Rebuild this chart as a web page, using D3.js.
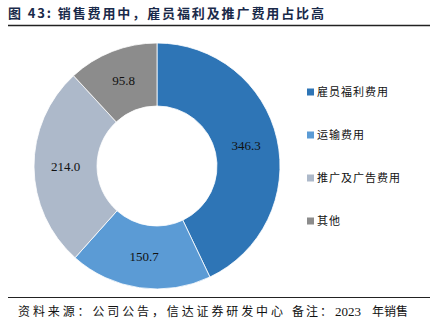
<!DOCTYPE html>
<html>
<head>
<meta charset="utf-8">
<script src="https://cdn.jsdelivr.net/npm/d3@7/dist/d3.min.js"></script>
<style>
  html, body { margin: 0; padding: 0; background: #fff; }
  svg { display: block; }
</style>
</head>
<body>
<svg id="chart" width="432" height="328"></svg>
<script>
// 2023 年销售费用构成
const categories = ["雇员福利费用", "运输费用", "推广及广告费用", "其他"];
const values = [346.3, 150.7, 214.0, 95.8];
const colors = ["#2E75B6", "#5B9BD5", "#ADB9CA", "#8C8C8C"];

const titleText = "图 43:  销售费用中，雇员福利及推广费用占比高";
const sourceText = "资料来源：公司公告，信达证券研发中心";
const notePieces = ["备注：", "2023", "年销售"];

const svg = d3.select("#chart");
const W = 432;

const cjk = "'Noto Sans CJK SC', 'Noto Sans', sans-serif";
const serif = "'Liberation Serif', 'Times New Roman', serif";

// title and rule
svg.append("text")
  .attr("x", 8).attr("y", 18)
  .attr("font-family", cjk)
  .attr("font-size", 13).attr("font-weight", "bold")
  .attr("fill", "#1a2a4a")
  .attr("textLength", 316).attr("lengthAdjust", "spacing")
  .text(titleText);
svg.append("line")
  .attr("x1", 8).attr("x2", W - 2).attr("y1", 25.5).attr("y2", 25.5)
  .attr("stroke", "#222").attr("stroke-width", 1.5);

// donut
const cx = 157, cy = 166, rOuter = 123, rInner = 60;
const pie = d3.pie().sort(null).value(d => d.v);
const arcs = pie(values.map((v, i) => ({ v, name: categories[i], i })));
const arc = d3.arc().innerRadius(rInner).outerRadius(rOuter);
const labelArc = d3.arc().innerRadius((rInner + rOuter) / 2).outerRadius((rInner + rOuter) / 2);

const g = svg.append("g").attr("transform", `translate(${cx},${cy})`);
g.selectAll("path")
  .data(arcs)
  .join("path")
  .attr("d", arc)
  .attr("fill", d => colors[d.data.i])
  .attr("stroke", "#fff").attr("stroke-width", 0.8);

g.selectAll("text.val")
  .data(arcs)
  .join("text")
  .attr("class", "val")
  .attr("transform", d => `translate(${labelArc.centroid(d)})`)
  .attr("text-anchor", "middle")
  .attr("dy", "0.35em")
  .attr("font-family", serif)
  .attr("font-size", 13)
  .attr("fill", "#111")
  .text(d => d3.format(".1f")(d.data.v));

// legend
const legend = svg.append("g").attr("transform", "translate(307,92)");
const items = legend.selectAll("g")
  .data(categories)
  .join("g")
  .attr("transform", (d, i) => `translate(0,${i * 43})`);
items.append("rect")
  .attr("x", 0).attr("y", -3.5).attr("width", 7).attr("height", 7)
  .attr("fill", (d, i) => colors[i]);
items.append("text")
  .attr("x", 10).attr("dy", "0.35em")
  .attr("font-family", cjk)
  .attr("font-size", 11)
  .attr("letter-spacing", 1)
  .attr("fill", "#111")
  .text(d => d);

// source rule and note
svg.append("line")
  .attr("x1", 8).attr("x2", W - 2).attr("y1", 297.5).attr("y2", 297.5)
  .attr("stroke", "#222").attr("stroke-width", 1);
const foot = svg.append("g").attr("transform", "translate(0,316)")
  .attr("fill", "#111");
foot.append("text")
  .attr("x", 18)
  .attr("font-family", cjk).attr("font-size", 12)
  .attr("textLength", 265).attr("lengthAdjust", "spacing")
  .text(sourceText);
foot.append("text")
  .attr("x", 292)
  .attr("font-family", cjk).attr("font-size", 12)
  .attr("textLength", 40).attr("lengthAdjust", "spacing")
  .text(notePieces[0]);
foot.append("text")
  .attr("x", 335)
  .attr("font-family", serif).attr("font-size", 13)
  .text(notePieces[1]);
foot.append("text")
  .attr("x", 372)
  .attr("font-family", cjk).attr("font-size", 12)
  .attr("textLength", 36).attr("lengthAdjust", "spacing")
  .text(notePieces[2]);
</script>
</body>
</html>
